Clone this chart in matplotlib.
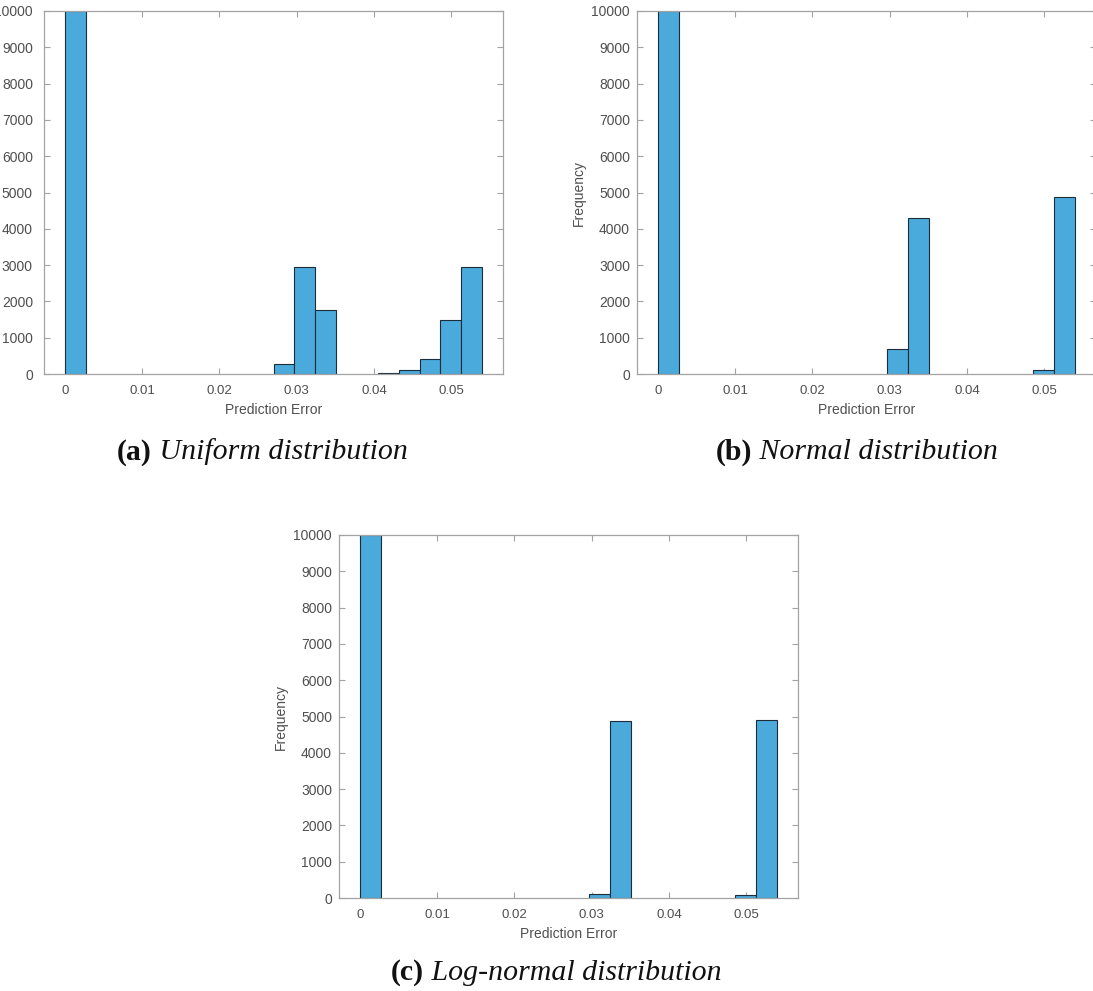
import matplotlib
matplotlib.use("Agg")
import matplotlib.pyplot as plt
import numpy as np

# Histogram bin width shared by all three panels
BIN_WIDTH = 0.0027

# Non-empty bins (bin index from 0) and their counts for each distribution
uniform_bins = [0, 10, 11, 12, 15, 16, 17, 18, 19]
uniform_counts = [10000, 270, 2950, 1770, 25, 100, 410, 1495, 2960]

normal_bins = [0, 11, 12, 18, 19]
normal_counts = [10000, 700, 4290, 100, 4870]

lognormal_bins = [0, 11, 12, 18, 19]
lognormal_counts = [10000, 120, 4870, 80, 4910]

x_ticks = [0, 0.01, 0.02, 0.03, 0.04, 0.05]
x_tick_labels = ["0", "0.01", "0.02", "0.03", "0.04", "0.05"]
y_ticks = list(range(0, 10001, 1000))

captions = [("(a)", "Uniform distribution"),
            ("(b)", "Normal distribution"),
            ("(c)", "Log-normal distribution")]

W, H = 1093, 991
fig = plt.figure(figsize=(W / 100, H / 100), dpi=100)
fig.patch.set_facecolor("white")

BAR_FACE = "#4baadc"
BAR_EDGE = "#1c2c38"
SPINE = "#a3a3a3"
TEXT = "#4f4f4f"
SANS = ["Liberation Sans", "DejaVu Sans"]
SERIF = ["Liberation Serif", "DejaVu Serif"]


def px_axes(left, top, right, bottom):
    return fig.add_axes([left / W, 1 - bottom / H, (right - left) / W, (bottom - top) / H])


def draw_hist(ax, bins, counts, ypad=5):
    lefts = np.asarray(bins) * BIN_WIDTH
    ax.bar(lefts, counts, width=BIN_WIDTH, align="edge",
           color=BAR_FACE, edgecolor=BAR_EDGE, linewidth=0.8, zorder=2)
    ax.set_xlim(-BIN_WIDTH, 20 * BIN_WIDTH + BIN_WIDTH)
    ax.set_ylim(0, 10000)
    ax.set_xticks(x_ticks)
    ax.set_xticklabels(x_tick_labels)
    ax.set_yticks(y_ticks)
    ax.tick_params(direction="in", length=4, width=0.8, color=SPINE,
                   labelcolor=TEXT, top=True, right=True)
    ax.tick_params(axis="x", labelsize=9.5, pad=8)
    ax.tick_params(axis="y", labelsize=10, pad=ypad)
    for lab in ax.get_xticklabels() + ax.get_yticklabels():
        lab.set_fontfamily(SANS)
    for sp in ax.spines.values():
        sp.set_color(SPINE)
        sp.set_linewidth(0.9)
        sp.set_zorder(3)
    ax.set_xlabel("Prediction Error", fontsize=10, color=TEXT, family=SANS, labelpad=4)
    ax.set_ylabel("Frequency", fontsize=10, color=TEXT, family=SANS, labelpad=4)


def caption(cx, cy, bold_part, italic_part, size=21.5):
    renderer = fig.canvas.get_renderer()
    t1 = fig.text(0, 0, bold_part, fontsize=size, fontweight="bold",
                  family=SERIF, color="#111111", va="center")
    t2 = fig.text(0, 0, " " + italic_part, fontsize=size, fontstyle="italic",
                  family=SERIF, color="#111111", va="center")
    w1 = t1.get_window_extent(renderer).width
    w2 = t2.get_window_extent(renderer).width
    x0 = cx - (w1 + w2) / 2
    t1.set_position((x0 / W, 1 - cy / H))
    t2.set_position(((x0 + w1) / W, 1 - cy / H))


ax_a = px_axes(44, 11, 503, 374)
draw_hist(ax_a, uniform_bins, uniform_counts, ypad=8)

ax_b = px_axes(637, 11, 1096, 374)
draw_hist(ax_b, normal_bins, normal_counts)

ax_c = px_axes(339, 535, 798, 898)
draw_hist(ax_c, lognormal_bins, lognormal_counts)

caption(262, 452, *captions[0])
caption(857, 452, *captions[1])
caption(556, 973, *captions[2])

fig.savefig("out.png", dpi=100, facecolor="white")
